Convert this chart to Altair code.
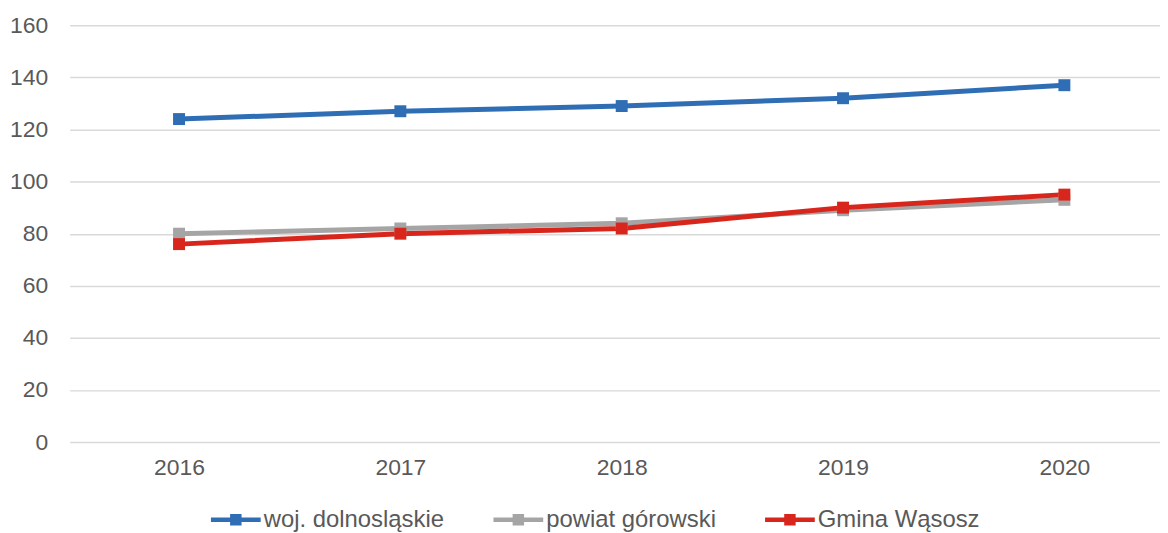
import altair as alt
import pandas as pd

years = [2016, 2017, 2018, 2019, 2020]
series_names = ["woj. dolnosląskie", "powiat górowski", "Gmina Wąsosz"]
woj = [124, 127, 129, 132, 137]
powiat = [80, 82, 84, 89, 93]
gmina = [76, 80, 82, 90, 95]
colors = ["#2F6EB5", "#A5A5A5", "#D9261C"]
y_ticks = [0, 20, 40, 60, 80, 100, 120, 140, 160]

rows = []
for name, vals in zip(series_names, [woj, powiat, gmina]):
    for yr, v in zip(years, vals):
        rows.append({"year": yr, "value": v, "series": name})
df = pd.DataFrame(rows)

FONT = "Liberation Sans"
LBL = "#595959"
FS = 23

x = alt.X("year:Q",
          scale=alt.Scale(domain=[2015.506, 2020.432], nice=False, zero=False),
          axis=alt.Axis(values=years, format="d", title=None, grid=False, ticks=False,
                        domain=False, labelFontSize=FS, labelColor=LBL, labelFont=FONT,
                        labelPadding=15))
y = alt.Y("value:Q",
          scale=alt.Scale(domain=[0, 160], nice=False),
          axis=alt.Axis(values=y_ticks, title=None, ticks=False, domain=False,
                        gridColor="#D9D9D9", gridWidth=1.5, labelFontSize=FS,
                        labelColor=LBL, labelFont=FONT, labelPadding=22))
color_scale = alt.Scale(domain=series_names, range=colors)

legend_path = ("M-1,-0.09 L1,-0.09 L1,0.09 L-1,0.09 Z "
               "M-0.23,-0.23 L0.23,-0.23 L0.23,0.23 L-0.23,0.23 Z")

legend = alt.Legend(title=None, orient="none", direction="horizontal",
                    legendX=142, legendY=472,
                    symbolType=legend_path, symbolSize=2500,
                    symbolOpacity=1, symbolStrokeWidth=0,
                    labelFontSize=24, labelColor=LBL, labelFont=FONT, labelLimit=500,
                    labelOffset=3, columnPadding=49)

color = alt.Color("series:N", scale=color_scale, sort=series_names, legend=legend)

lines = alt.Chart(df).mark_line(strokeWidth=5).encode(
    x=x, y=y, color=color,
)

points = alt.Chart(df).mark_point(filled=True, shape="square", size=144, opacity=1).encode(
    x=x, y=y, color=color,
)

chart = alt.layer(lines, points).properties(
    width=1096, height=419,
    padding={"left": 62, "top": 16, "right": 0, "bottom": 90},
    autosize=alt.AutoSizeParams(type="none"),
).configure_view(stroke=None).configure_legend(
    symbolType=legend_path
)

chart.save("out.html", embed_options={"renderer": "svg", "actions": False})
